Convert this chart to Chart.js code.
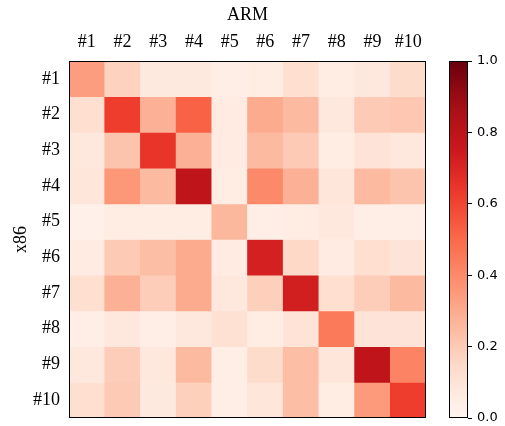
<!DOCTYPE html>
<html lang="en">
<head>
  <meta charset="UTF-8">
  <title>ARM vs x86</title>
  <script src="https://cdn.jsdelivr.net/npm/chart.js"></script>
  <style>
    html, body { margin: 0; padding: 0; background: #ffffff; }
    .wrap { position: relative; width: 505px; height: 426px; }
    #heat-box { position: absolute; left: 0; top: 0; width: 505px; height: 426px; }
    #bar-box { position: absolute; left: 440px; top: 0; width: 65px; height: 426px; }
  </style>
</head>
<body>
<div class="wrap">
  <div id="heat-box"><canvas id="heat"></canvas></div>
  <div id="bar-box"><canvas id="cbar"></canvas></div>
</div>
<script>
// categories
const armLabels = ['#1', '#2', '#3', '#4', '#5', '#6', '#7', '#8', '#9', '#10'];
const x86Labels = ['#1', '#2', '#3', '#4', '#5', '#6', '#7', '#8', '#9', '#10'];

// one row per x86 label, columns follow armLabels
const row1  = [0.34, 0.17, 0.07, 0.07, 0.04, 0.05, 0.13, 0.05, 0.08, 0.14];
const row2  = [0.13, 0.62, 0.28, 0.52, 0.06, 0.30, 0.25, 0.08, 0.20, 0.21];
const row3  = [0.08, 0.22, 0.65, 0.28, 0.06, 0.25, 0.20, 0.05, 0.10, 0.08];
const row4  = [0.09, 0.36, 0.25, 0.79, 0.05, 0.40, 0.28, 0.09, 0.25, 0.22];
const row5  = [0.03, 0.05, 0.05, 0.05, 0.26, 0.04, 0.05, 0.08, 0.04, 0.04];
const row6  = [0.06, 0.20, 0.24, 0.30, 0.06, 0.72, 0.15, 0.06, 0.13, 0.10];
const row7  = [0.13, 0.28, 0.19, 0.30, 0.08, 0.18, 0.73, 0.13, 0.19, 0.25];
const row8  = [0.04, 0.08, 0.04, 0.08, 0.12, 0.05, 0.11, 0.45, 0.10, 0.10];
const row9  = [0.08, 0.19, 0.08, 0.25, 0.04, 0.14, 0.24, 0.09, 0.79, 0.42];
const row10 = [0.13, 0.20, 0.07, 0.18, 0.04, 0.09, 0.24, 0.05, 0.35, 0.62];
const rows = [row1, row2, row3, row4, row5, row6, row7, row8, row9, row10];

// colorbar ticks
const cbarTicks = [0.0, 0.2, 0.4, 0.6, 0.8, 1.0];

// matplotlib "Reds"
const redsStops = ['#fff5f0', '#fee0d2', '#fcbba1', '#fc9272', '#fb6a4a', '#ef3b2c', '#cb181d', '#a50f15', '#67000d'];

function hexToRgb(h) {
  return [parseInt(h.slice(1, 3), 16), parseInt(h.slice(3, 5), 16), parseInt(h.slice(5, 7), 16)];
}
function reds(v) {
  v = Math.max(0, Math.min(1, v));
  const pos = v * (redsStops.length - 1);
  const i = Math.min(Math.floor(pos), redsStops.length - 2);
  const t = pos - i;
  const a = hexToRgb(redsStops[i]), b = hexToRgb(redsStops[i + 1]);
  const c = a.map((x, k) => Math.round(x + (b[k] - x) * t));
  return 'rgb(' + c.join(',') + ')';
}

const serif = "'Liberation Serif', 'Times New Roman', serif";

// heatmap: each row is a dataset of floating bars spanning [r, r+1]
const heatSets = rows.map((vals, r) => ({
  label: x86Labels[r],
  data: vals.map(() => [r, r + 1]),
  backgroundColor: vals.map(reds),
  borderWidth: 0,
  barPercentage: 1.0,
  categoryPercentage: 1.0,
  grouped: false
}));

const frame = {
  id: 'frame',
  afterDraw(chart) {
    const a = chart.chartArea, ctx = chart.ctx;
    ctx.save();
    ctx.strokeStyle = '#000';
    ctx.lineWidth = 1;
    ctx.strokeRect(Math.round(a.left) + 0.5, Math.round(a.top) + 0.5,
      Math.round(a.right - a.left) - 1, Math.round(a.bottom - a.top) - 1);
    ctx.restore();
  }
};

// labels may overflow the axis ends, don't let them shrink the plot
function noEndPadding(s) {
  s.paddingTop = 0;
  s.paddingBottom = 0;
}

new Chart(document.getElementById('heat'), {
  type: 'bar',
  data: { labels: armLabels, datasets: heatSets },
  options: {
    responsive: true,
    maintainAspectRatio: false,
    animation: false,
    layout: { padding: { left: 0, right: 79, top: 0, bottom: 8 } },
    plugins: { legend: { display: false }, tooltip: { enabled: false } },
    scales: {
      x: {
        position: 'top',
        grid: { display: false, drawTicks: false },
        border: { display: false },
        ticks: { color: '#000', font: { family: serif, size: 18 }, padding: 8, maxRotation: 0 },
        title: { display: true, text: 'ARM', color: '#000', font: { family: serif, size: 18 }, padding: { top: 4, bottom: 4 } },
        afterFit(s) { s.height = 61; s.paddingLeft = 0; s.paddingRight = 0; }
      },
      y: {
        type: 'linear',
        min: 0,
        max: 10,
        reverse: true,
        afterBuildTicks(s) { s.ticks = x86Labels.map((_, i) => ({ value: i + 0.5 })); },
        grid: { display: false, drawTicks: false },
        border: { display: false },
        ticks: {
          color: '#000', font: { family: serif, size: 18 }, padding: 9,
          callback: (v) => x86Labels[Math.floor(v)]
        },
        title: { display: true, text: 'x86', color: '#000', font: { family: serif, size: 18 }, padding: { top: 10, bottom: 0 } },
        afterFit(s) { s.width = 69; noEndPadding(s); }
      }
    }
  },
  plugins: [frame]
});

// colorbar: one floating bar from 0 to 1 with a Reds gradient
new Chart(document.getElementById('cbar'), {
  type: 'bar',
  data: {
    labels: [''],
    datasets: [{
      data: [[0, 1]],
      backgroundColor(ctx) {
        const a = ctx.chart.chartArea;
        if (!a) return redsStops[0];
        const g = ctx.chart.ctx.createLinearGradient(0, a.bottom, 0, a.top);
        for (let i = 0; i <= 20; i++) g.addColorStop(i / 20, reds(i / 20));
        return g;
      },
      borderWidth: 0,
      barPercentage: 1.0,
      categoryPercentage: 1.0
    }]
  },
  options: {
    responsive: true,
    maintainAspectRatio: false,
    animation: false,
    layout: { padding: { left: 9, right: 0, top: 61, bottom: 8 } },
    plugins: { legend: { display: false }, tooltip: { enabled: false } },
    scales: {
      x: { display: false },
      y: {
        position: 'right',
        min: 0,
        max: 1,
        afterBuildTicks(s) { s.ticks = cbarTicks.map(v => ({ value: v })); },
        grid: { display: true, drawOnChartArea: false, tickLength: 4, color: '#000' },
        border: { display: false },
        ticks: { color: '#000', font: { family: "'DejaVu Sans', sans-serif", size: 13 }, padding: 5, callback: v => v.toFixed(1) },
        afterFit(s) { s.width = 37; noEndPadding(s); }
      }
    }
  },
  plugins: [frame]
});
</script>
</body>
</html>
